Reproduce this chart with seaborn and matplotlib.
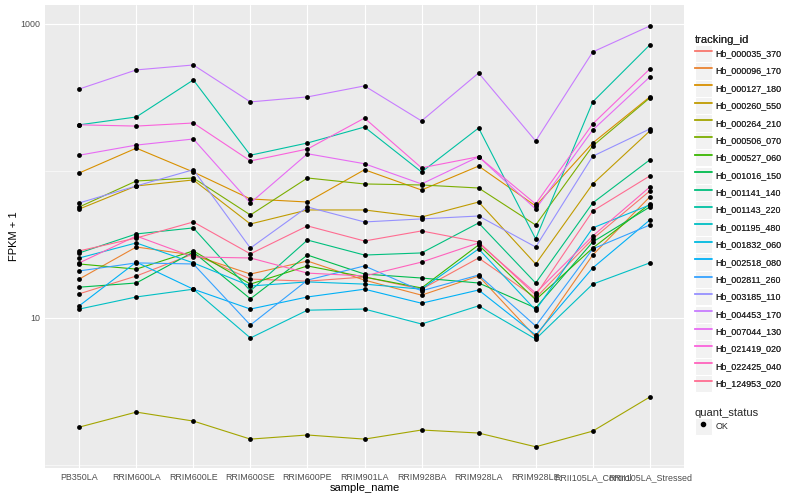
import numpy as np
import pandas as pd
import matplotlib
matplotlib.use("Agg")
import matplotlib.pyplot as plt
import seaborn as sns
from matplotlib.lines import Line2D
from matplotlib.patches import Rectangle
from matplotlib.legend_handler import HandlerLine2D
from matplotlib.ticker import FixedLocator, NullFormatter

# ---------------- data (FPKM + 1) ----------------
samples = ["PB350LA", "RRIM600LA", "RRIM600LE", "RRIM600SE", "RRIM600PE",
           "RRIM901LA", "RRIM928BA", "RRIM928LA", "RRIM928LE",
           "RRII105LA_Control", "RRII105LA_Stressed"]

tracking_ids = ["Hb_000035_370", "Hb_000096_170", "Hb_000127_180", "Hb_000260_550",
                "Hb_000264_210", "Hb_000506_070", "Hb_000527_060", "Hb_001016_150",
                "Hb_001141_140", "Hb_001143_220", "Hb_001195_480", "Hb_001832_060",
                "Hb_002518_080", "Hb_002811_260", "Hb_003185_110", "Hb_004453_170",
                "Hb_007044_130", "Hb_021419_020", "Hb_022425_040", "Hb_124953_020"]

hb_000035_370 = [14.6, 19.3, 27.3, 18.4, 17.8, 19.0, 15.7, 25.6, 13.7, 34.5, 73.1]
hb_000096_170 = [18.4, 30.4, 26.8, 19.9, 24.4, 18.1, 14.3, 19.3, 7.42, 26.8, 66.6]
hb_000127_180 = [96.9, 143, 98.4, 64.5, 61.5, 102, 74.2, 108, 57.8, 155, 319]
hb_000260_550 = [55.1, 79.1, 86.9, 43.6, 54.3, 54.3, 48.6, 61.5, 23.3, 81.6, 187]
hb_000264_210 = [1.81, 2.29, 1.99, 1.50, 1.60, 1.50, 1.73, 1.65, 1.33, 1.70, 2.90]
hb_000506_070 = [56.9, 85.5, 89.6, 50.2, 89.6, 81.6, 80.3, 76.6, 42.9, 148, 314]
hb_000527_060 = [23.3, 21.5, 28.6, 17.0, 22.6, 19.0, 16.0, 31.4, 13.3, 29.9, 59.6]
hb_001016_150 = [16.2, 17.3, 28.1, 13.5, 26.8, 19.9, 18.7, 17.3, 11.7, 32.9, 56.9]
hb_001141_140 = [27.7, 37.3, 41.0, 15.3, 33.9, 26.8, 27.7, 44.3, 17.3, 60.6, 119]
hb_001143_220 = [206, 233, 416, 128, 155, 199, 98.4, 196, 34.5, 295, 720]
hb_001195_480 = [11.5, 13.9, 15.7, 7.31, 11.3, 11.5, 9.10, 12.1, 7.19, 17.0, 23.7]
hb_001832_060 = [25.6, 32.4, 23.7, 16.5, 17.6, 17.0, 15.7, 29.5, 11.3, 41.0, 58.7]
hb_002518_080 = [12.1, 24.0, 15.7, 11.5, 13.9, 15.7, 12.6, 15.5, 7.66, 21.9, 46.4]
hb_002811_260 = [20.9, 23.7, 23.3, 8.96, 18.1, 22.6, 15.3, 19.6, 8.82, 29.5, 42.9]
hb_003185_110 = [60.6, 79.1, 102, 29.9, 56.9, 45.0, 47.2, 49.4, 30.4, 126, 193]
hb_004453_170 = [361, 487, 526, 295, 319, 379, 219, 464, 160, 645, 969]
hb_007044_130 = [128, 150, 165, 60.6, 131, 112, 81.6, 125, 55.1, 190, 436]
hb_021419_020 = [206, 202, 212, 117, 141, 229, 105, 125, 59.6, 209, 494]
hb_022425_040 = [23.7, 36.1, 26.0, 25.6, 20.2, 19.3, 24.0, 32.4, 14.8, 36.1, 77.8]
hb_124953_020 = [28.6, 35.0, 45.0, 27.3, 42.3, 33.4, 39.1, 32.9, 14.3, 53.4, 92.5]

series = [hb_000035_370, hb_000096_170, hb_000127_180, hb_000260_550, hb_000264_210,
          hb_000506_070, hb_000527_060, hb_001016_150, hb_001141_140, hb_001143_220,
          hb_001195_480, hb_001832_060, hb_002518_080, hb_002811_260, hb_003185_110,
          hb_004453_170, hb_007044_130, hb_021419_020, hb_022425_040, hb_124953_020]

quant_status = "OK"

hue_colors = ["#F8766D", "#EA8331", "#D89000", "#C09B00", "#A3A500", "#7CAE00",
              "#39B600", "#00BB4E", "#00BF7D", "#00C1A3", "#00BFC4", "#00BAE0",
              "#00B0F6", "#35A2FF", "#9590FF", "#C77CFF", "#E76BF3", "#FA62DB",
              "#FF62BC", "#FF6C91"]

rows = []
for tid, vals in zip(tracking_ids, series):
    for i, (s, v) in enumerate(zip(samples, vals)):
        rows.append({"tracking_id": tid, "sample_name": s, "xpos": i,
                     "FPKM + 1": v, "quant_status": quant_status})
df = pd.DataFrame(rows)

# ---------------- figure ----------------
sns.set_style("white")
plt.rcParams["font.family"] = ["Liberation Sans", "DejaVu Sans"]

fig = plt.figure(figsize=(8, 5), dpi=100)
ax = fig.add_axes([45 / 800, 1 - 468 / 500, (684 - 45) / 800, (468 - 5) / 500])
ax.set_facecolor("#EBEBEB")
for sp in ax.spines.values():
    sp.set_visible(False)

ax.set_yscale("log")
ax.set_axisbelow(True)

sns.lineplot(data=df, x="xpos", y="FPKM + 1", hue="tracking_id",
             hue_order=tracking_ids, palette=hue_colors, estimator=None,
             errorbar=None, sort=False, linewidth=0.8, legend=False, ax=ax)
sns.scatterplot(data=df, x="xpos", y="FPKM + 1", color="black", marker="o",
                s=12, linewidth=0, legend=False, ax=ax, zorder=5)

ax.set_xlim(-0.6, len(samples) - 1 + 0.6)
ax.set_ylim(10 ** -0.0204, 10 ** 3.129)
ax.yaxis.set_major_locator(FixedLocator([10, 1000]))
ax.yaxis.set_minor_locator(FixedLocator([1, 100]))
ax.yaxis.set_minor_formatter(NullFormatter())
ax.set_yticklabels(["10", "1000"])
ax.set_xticks(range(len(samples)))
ax.set_xticklabels(samples)
ax.grid(True, which="major", color="white", linewidth=0.8)
ax.grid(True, which="minor", axis="y", color="white", linewidth=0.4)

ax.tick_params(axis="both", which="major", length=2.0, width=0.8, color="#333333",
               labelcolor="#4D4D4D", labelsize=6.4, pad=1.5)
ax.tick_params(axis="y", which="minor", length=0)
ax.set_xlabel("sample_name", fontsize=8, color="black", labelpad=1)
ax.set_ylabel("FPKM + 1", fontsize=8, color="black", labelpad=1)

# ---------------- legends ----------------
key_fill = "#F2F2F2"


class KeyHandler(HandlerLine2D):
    def create_artists(self, legend, orig_handle, xdescent, ydescent,
                       width, height, fontsize, trans):
        bg = Rectangle((-xdescent, -ydescent), width, height, facecolor=key_fill,
                       edgecolor="white", linewidth=0.8, transform=trans)
        arts = super().create_artists(legend, orig_handle, xdescent, ydescent,
                                      width, height, fontsize, trans)
        return [bg] + list(arts)


handles = [Line2D([], [], color=c, linewidth=1.3) for c in hue_colors]
leg1 = fig.legend(handles, tracking_ids, title="tracking_id",
                  handler_map={Line2D: KeyHandler()},
                  loc="upper left", bbox_to_anchor=(693 / 800, 1 - 33 / 500),
                  frameon=False, fontsize=6.4, title_fontsize=8,
                  handlelength=1.9, handleheight=2.6, labelspacing=0.02,
                  handletextpad=0.4, borderaxespad=0, borderpad=0.2)
leg1._legend_box.align = "left"

h2 = [Line2D([], [], color="black", marker="o", linestyle="none", markersize=3)]
leg2 = fig.legend(h2, [quant_status], title="quant_status",
                  handler_map={Line2D: KeyHandler(numpoints=1)},
                  loc="upper left", bbox_to_anchor=(693 / 800, 1 - 406 / 500),
                  frameon=False, fontsize=6.4, title_fontsize=8,
                  handlelength=1.9, handleheight=2.6, labelspacing=0.02,
                  handletextpad=0.4, borderaxespad=0, borderpad=0.2)
leg2._legend_box.align = "left"
fig.add_artist(leg1)

fig.savefig("out.png", dpi=100, facecolor="white")
